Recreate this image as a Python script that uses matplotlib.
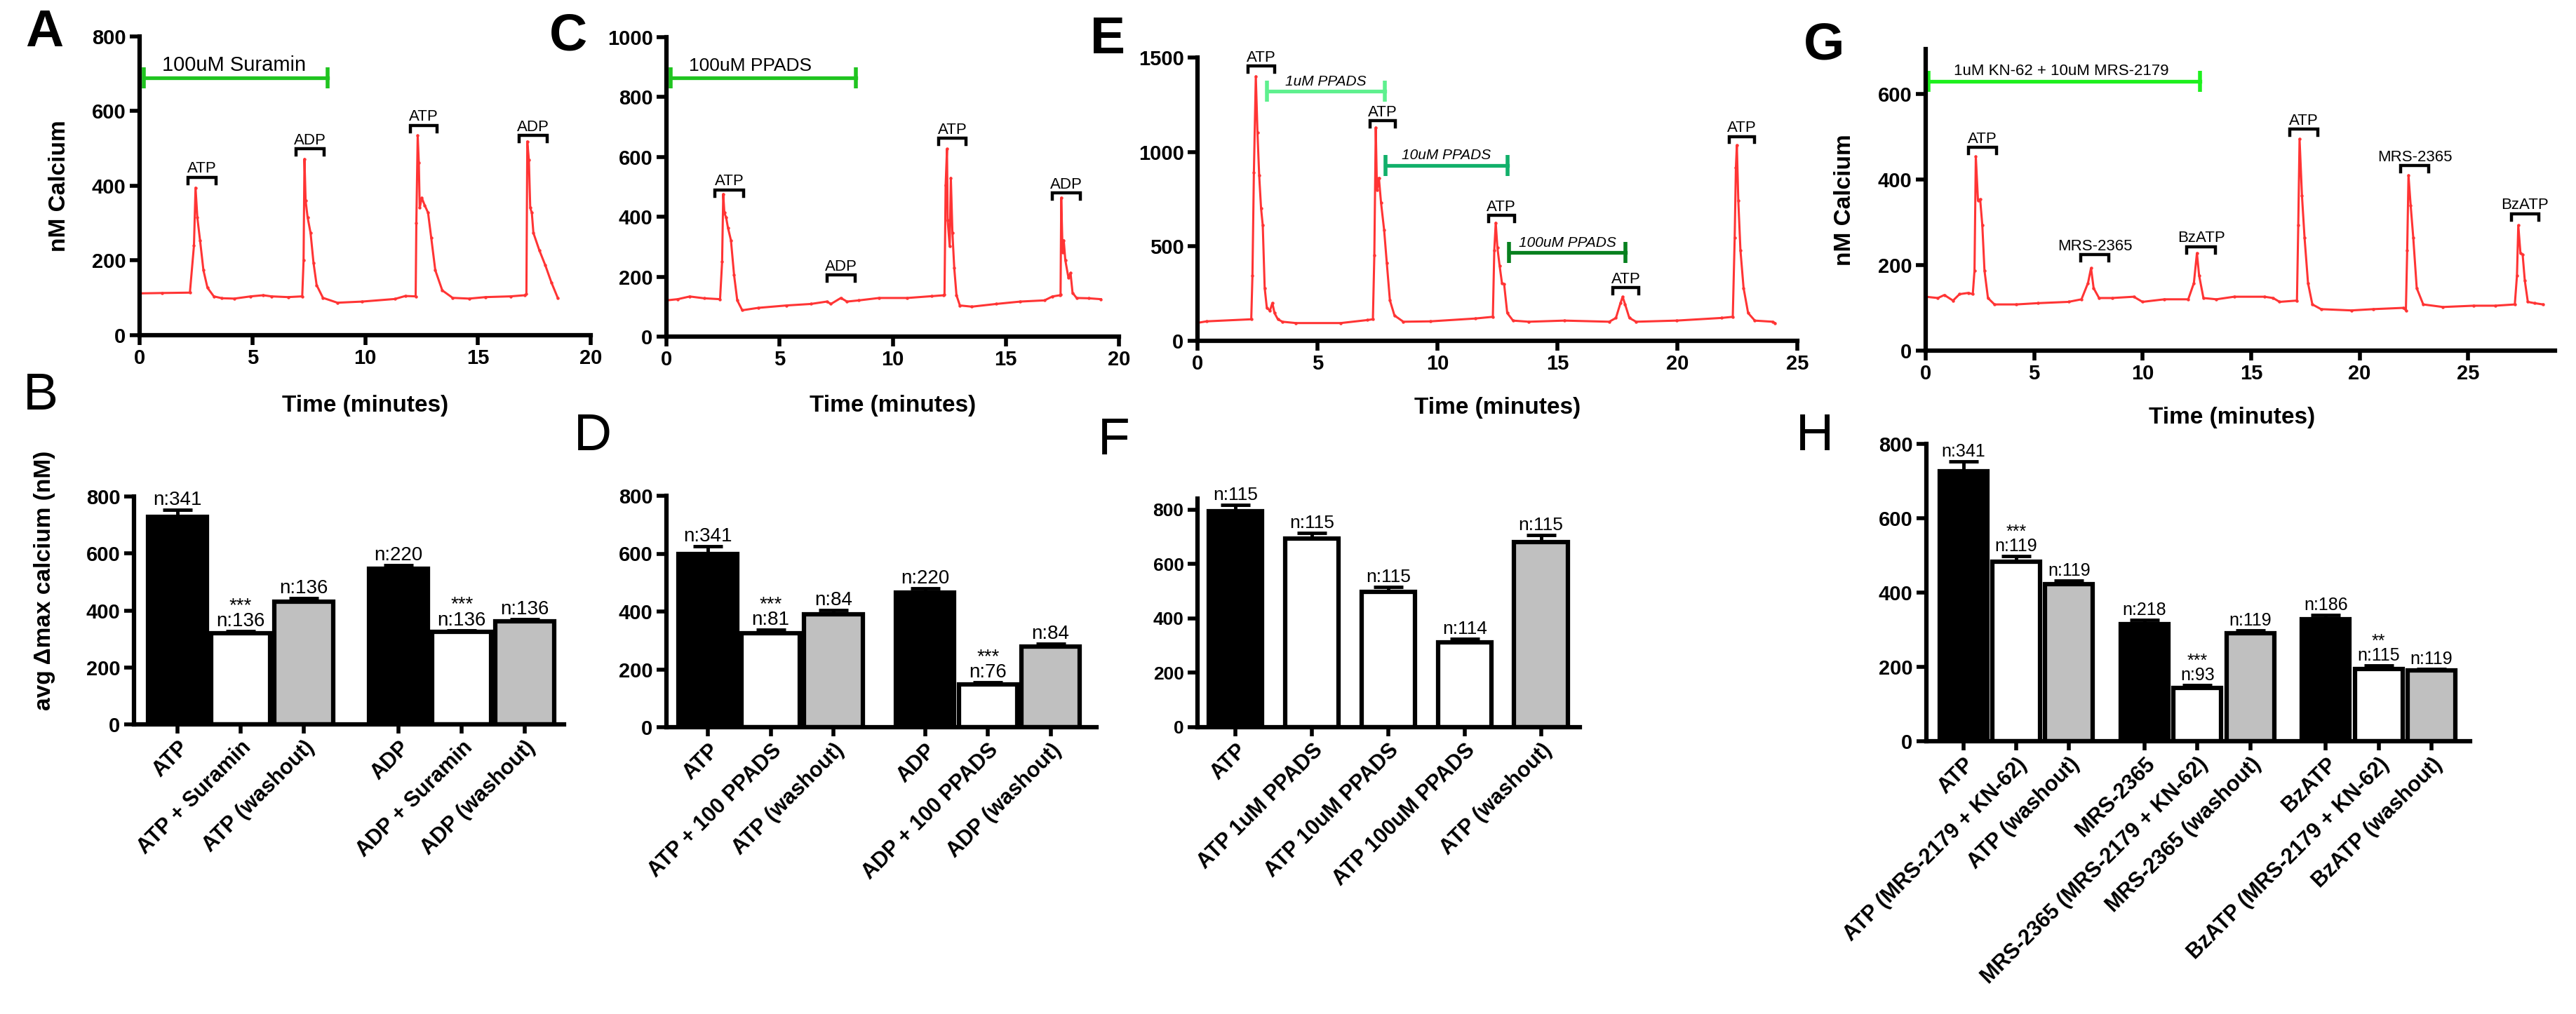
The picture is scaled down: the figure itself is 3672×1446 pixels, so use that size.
import numpy as np
import matplotlib.pyplot as plt

plt.rcParams['font.family'] = ['Liberation Sans', 'DejaVu Sans']

# ---------------- calcium traces (time in minutes, nM calcium) ----------------
a_time = [0.0, 1.0, 2.23, 2.41, 2.48, 2.56, 2.68, 2.83, 3.01, 3.29, 3.65, 4.20, 4.93, 5.48, 5.84,
          6.58, 7.21, 7.27, 7.31, 7.36, 7.45, 7.58, 7.71, 7.85, 8.13, 8.77, 9.86, 11.32, 11.78,
          12.24, 12.27, 12.33, 12.38, 12.42, 12.51, 12.64, 12.79, 12.93, 13.11, 13.42, 13.88,
          14.61, 15.34, 16.44, 17.08, 17.15, 17.19, 17.26, 17.32, 17.39, 17.46, 17.72, 17.99,
          18.26, 18.54]
a_calcium = [112, 113, 114, 240, 395, 315, 254, 174, 127, 104, 99, 98, 104, 107, 104,
             102, 104, 200, 472, 361, 315, 274, 194, 134, 100, 87, 90, 97, 105,
             104, 300, 535, 462, 341, 368, 348, 328, 261, 174, 120, 100,
             98, 102, 104, 107, 110, 519, 469, 341, 328, 274, 228, 187,
             141, 100]

c_time = [0.0, 0.50, 1.03, 1.66, 2.37, 2.46, 2.51, 2.56, 2.64, 2.72, 2.85, 2.99, 3.13, 3.35,
          4.06, 5.31, 6.38, 7.09, 7.27, 7.71, 7.98, 8.51, 9.40, 10.65, 11.72, 12.25, 12.29,
          12.34, 12.40, 12.43, 12.52, 12.57, 12.64, 12.72, 12.82, 12.97, 13.50, 14.57, 15.64,
          16.71, 17.06, 17.38, 17.42, 17.45, 17.51, 17.56, 17.63, 17.77, 17.86, 17.95, 18.13,
          18.66, 19.20]
c_calcium = [121, 125, 134, 128, 125, 250, 476, 414, 397, 363, 322, 205, 121, 88,
             96, 104, 109, 117, 109, 129, 117, 121, 129, 129, 135, 138, 140,
             505, 627, 388, 301, 530, 347, 230, 138, 104, 100, 109, 117,
             121, 134, 138, 140, 464, 280, 322, 255, 196, 213, 146, 129,
             128, 125]

e_time = [0.0, 0.37, 2.24, 2.29, 2.35, 2.43, 2.50, 2.57, 2.65, 2.72, 2.80, 2.89, 3.02, 3.12,
          3.21, 3.35, 3.54, 4.10, 5.97, 7.09, 7.31, 7.37, 7.43, 7.48, 7.56, 7.65, 7.78, 7.89,
          8.02, 8.21, 8.58, 9.70, 11.57, 12.31, 12.37, 12.43, 12.50, 12.59, 12.69, 12.78, 12.91,
          13.15, 13.81, 15.30, 17.16, 17.44, 17.63, 17.72, 17.82, 18.00, 18.28, 19.96, 21.83,
          22.31, 22.39, 22.44, 22.48, 22.54, 22.63, 22.76, 22.95, 23.23, 23.97, 24.07]
e_calcium = [95, 103, 114, 346, 890, 1400, 1102, 877, 700, 611, 280, 174, 160, 200,
             147, 114, 101, 94, 94, 110, 114, 452, 1129, 797, 863, 731, 585, 412,
             214, 134, 101, 103, 118, 127, 479, 625, 493, 399, 306, 300, 147,
             107, 101, 107, 101, 121, 200, 233, 194, 121, 101, 107, 121,
             127, 545, 916, 1036, 744, 479, 280, 147, 107, 101, 94]

g_time = [0.0, 0.56, 0.86, 1.26, 1.56, 1.97, 2.17, 2.25, 2.31, 2.41, 2.51, 2.61, 2.71, 2.87,
          3.17, 4.17, 5.18, 6.58, 7.18, 7.48, 7.62, 7.74, 7.99, 8.59, 9.59, 9.99, 11.00, 12.10,
          12.36, 12.50, 12.60, 12.80, 13.40, 14.21, 15.61, 16.01, 16.31, 17.11, 17.17, 17.23,
          17.34, 17.46, 17.62, 17.82, 18.22, 19.62, 20.63, 22.03, 22.13, 22.19, 22.25, 22.35,
          22.47, 22.63, 22.93, 23.84, 25.24, 26.24, 27.15, 27.25, 27.31, 27.41, 27.51, 27.61,
          27.75, 28.05, 28.45]
g_calcium = [126, 123, 130, 117, 132, 135, 132, 187, 454, 351, 354, 293, 187, 123,
             108, 108, 111, 114, 120, 158, 193, 146, 123, 123, 126, 114, 120, 120,
             158, 228, 176, 123, 120, 126, 126, 123, 114, 117, 293, 495,
             363, 264, 158, 108, 97, 94, 97, 100, 94, 234, 410, 340,
             264, 146, 108, 102, 105, 105, 108, 176, 293, 228, 225, 164,
             114, 111, 108]

# agonist brackets: (start, end, level, label)
a_brackets = [(2.14, 3.38, 423, 'ATP'), (6.94, 8.18, 499, 'ADP'),
              (12.0, 13.2, 562, 'ATP'), (16.84, 18.08, 535, 'ADP')]
c_brackets = [(2.15, 3.40, 490, 'ATP'), (7.09, 8.33, 205, 'ADP'),
              (12.02, 13.25, 662, 'ATP'), (17.06, 18.31, 480, 'ADP')]
e_brackets = [(2.11, 3.21, 1454, 'ATP'), (7.18, 8.25, 1164, 'ATP'), (12.13, 13.21, 664, 'ATP'),
              (17.31, 18.40, 282, 'ATP'), (22.15, 23.23, 1082, 'ATP')]
g_brackets = [(1.97, 3.27, 475, 'ATP'), (7.14, 8.45, 224, 'MRS-2365'), (12.04, 13.34, 243, 'BzATP'),
              (16.77, 18.06, 518, 'ATP'), (21.89, 23.17, 433, 'MRS-2365'),
              (26.99, 28.25, 320, 'BzATP')]

# drug application bars: (start, end, level, label)
a_drugs = [(0.18, 8.35, 689, '100uM Suramin')]
c_drugs = [(0.20, 8.37, 865, '100uM PPADS')]
e_drugs = [(2.89, 7.80, 1321, '1uM PPADS'), (7.84, 12.91, 930, '10uM PPADS'),
           (12.97, 17.85, 468, '100uM PPADS')]
g_drugs = [(0.12, 12.64, 629, '1uM KN-62 + 10uM MRS-2179')]

# ---------------- bar summaries ----------------
b_labels = ['ATP', 'ATP + Suramin', 'ATP (washout)', 'ADP', 'ADP + Suramin', 'ADP (washout)']
b_means = [728, 321, 432, 546, 324, 361]
b_sem = [25, 7, 10, 14, 7, 8]
b_n = [341, 136, 136, 220, 136, 136]
b_stars = ['', '***', '', '', '***', '']

d_labels = ['ATP', 'ATP + 100 PPADS', 'ATP (washout)', 'ADP', 'ADP + 100 PPADS', 'ADP (washout)']
d_means = [599, 324, 390, 465, 147, 279]
d_sem = [27, 13, 14, 15, 9, 9]
d_n = [341, 81, 84, 220, 76, 84]
d_stars = ['', '***', '', '', '***', '']

f_labels = ['ATP', 'ATP 1uM PPADS', 'ATP 10uM PPADS', 'ATP 100uM PPADS', 'ATP (washout)']
f_means = [793, 692, 498, 312, 680]
f_sem = [25, 21, 18, 12, 26]
f_n = [115, 115, 115, 114, 115]
f_stars = ['', '', '', '', '']

h_labels = ['ATP', 'ATP (MRS-2179 + KN-62)', 'ATP (washout)',
            'MRS-2365', 'MRS-2365 (MRS-2179 + KN-62)', 'MRS-2365 (washout)',
            'BzATP', 'BzATP (MRS-2179 + KN-62)', 'BzATP (washout)']
h_means = [727, 483, 423, 315, 143, 291, 329, 195, 190]
h_sem = [25, 16, 10, 12, 8, 8, 10, 8, 5]
h_n = [341, 119, 119, 218, 93, 119, 186, 115, 119]
h_stars = ['', '***', '', '', '***', '', '', '**', '']

W, H = 3672, 1446
fig = plt.figure(figsize=(W / 100, H / 100), dpi=100)


def px_axes(left, top, right, bottom):
    return fig.add_axes([left / W, 1 - bottom / H, (right - left) / W, (bottom - top) / H])


def style(ax, tick_size=21):
    for s in ['top', 'right']:
        ax.spines[s].set_visible(False)
    for s in ['left', 'bottom']:
        ax.spines[s].set_linewidth(4.5)
    ax.tick_params(direction='out', length=10, width=4, labelsize=tick_size, pad=4)
    for lab in ax.get_xticklabels() + ax.get_yticklabels():
        lab.set_fontweight('bold')


def trace_panel(ax, t, ca, xmax, ymax, xticks, yticks, brackets, drugs, drug_colors,
                drug_italic=False, drug_size=16, centered=False):
    ax.plot(t, ca, color='#ff3434', lw=2.2, marker='o', ms=2.2)
    ax.set_xlim(0, xmax)
    ax.set_ylim(0, ymax)
    ax.set_xticks(xticks)
    ax.set_yticks(yticks)
    h = 0.021 * ymax
    for x0, x1, y, lab in brackets:
        ax.plot([x0, x0, x1, x1], [y - h, y, y, y - h], color='black', lw=3.2,
                solid_joinstyle='miter')
        ax.annotate(lab, ((x0 + x1) / 2, y), xytext=(0, 1), textcoords='offset points',
                    ha='center', va='bottom', fontsize=16)
    for (x0, x1, y, lab), col in zip(drugs, drug_colors):
        ax.plot([x0, x1], [y, y], color=col, lw=3.8)
        ax.plot([x0, x1], [y, y], ls='none', marker='|', ms=21, mew=4, color=col)
        if centered:
            ax.annotate(lab, ((x0 + x1) / 2, y), xytext=(0, 3), textcoords='offset points',
                        ha='center', va='bottom', fontsize=drug_size,
                        style='italic' if drug_italic else 'normal')
        else:
            ax.annotate(lab, (x0 + 0.04 * xmax, y), xytext=(0, 3), textcoords='offset points',
                        ha='left', va='bottom', fontsize=drug_size)
    style(ax)
    ax.set_xlabel('Time (minutes)', fontsize=24, fontweight='bold')


def group_positions(sizes, gap):
    pos, x = [], 0.0
    for s in sizes:
        pos += [x + i for i in range(s)]
        x += s + gap
    return np.array(pos)


def bar_panel(ax, pos, means, sem, n, stars, labels, fills, xlim, ymax, width,
              n_size=20, tick_size=21, label_size=22):
    ax.bar(pos, means, width=width, color=fills, edgecolor='black', linewidth=4.5, zorder=2)
    ax.errorbar(pos, means, yerr=[np.zeros(len(sem)), sem], fmt='none', ecolor='black',
                elinewidth=3.5, capsize=15, capthick=3.5, zorder=3)
    for x, m, e, k, st in zip(pos, means, sem, n, stars):
        txt = f'{st}\nn:{k}' if st else f'n:{k}'
        ax.annotate(txt, (x, m + e), xytext=(0, 5), textcoords='offset points',
                    ha='center', va='baseline', fontsize=n_size, linespacing=0.8)
    ax.set_xlim(*xlim)
    ax.set_ylim(0, ymax)
    ax.set_yticks([0, 200, 400, 600, 800])
    ax.set_xticks(pos)
    ax.set_xticklabels(labels, rotation=45, ha='right', rotation_mode='anchor')
    style(ax, tick_size)
    ax.tick_params(axis='x', length=9, labelsize=label_size)


green = '#20c420'

axA = px_axes(199, 52, 842, 478)
trace_panel(axA, a_time, a_calcium, 20, 800, [0, 5, 10, 15, 20], [0, 200, 400, 600, 800],
            a_brackets, a_drugs, [green], drug_size=21)
axA.set_ylabel('nM Calcium', fontsize=24, fontweight='bold')
axA.yaxis.set_label_coords(-0.154, 0.5)
axA.xaxis.set_label_coords(0.5, -0.2)

axC = px_axes(950, 53, 1595, 480)
trace_panel(axC, c_time, c_calcium, 20, 1000, [0, 5, 10, 15, 20], [0, 200, 400, 600, 800, 1000],
            c_brackets, c_drugs, [green], drug_size=19)
axC.xaxis.set_label_coords(0.5, -0.194)

axE = px_axes(1707, 82, 2562, 486)
trace_panel(axE, e_time, e_calcium, 25, 1500, [0, 5, 10, 15, 20, 25], [0, 500, 1000, 1500],
            e_brackets, e_drugs, ['#5ef08e', '#12b06a', '#07801f'],
            drug_italic=True, drug_size=15, centered=True)
axE.xaxis.set_label_coords(0.5, -0.198)

axG = px_axes(2745, 70, 3642, 500)
trace_panel(axG, g_time, g_calcium, 29, 705, [0, 5, 10, 15, 20, 25], [0, 200, 400, 600],
            g_brackets, g_drugs, ['#1ef01e'], drug_size=16)
axG.set_ylabel('nM Calcium', fontsize=24, fontweight='bold')
axG.yaxis.set_label_coords(-0.111, 0.5)
axG.xaxis.set_label_coords(0.487, -0.186)

black, white, grey = 'black', 'white', '#c0c0c0'

axB = px_axes(191, 708, 804, 1033)
bar_panel(axB, group_positions([3, 3], 0.5), b_means, b_sem, b_n, b_stars, b_labels,
          [black, white, grey] * 2, (-0.69, 6.12), 800, 0.93)
axB.set_ylabel('avg \u0394max calcium (nM)', fontsize=24, fontweight='bold')
axB.yaxis.set_label_coords(-0.183, 0.63)

axD = px_axes(950, 707, 1563, 1037)
bar_panel(axD, group_positions([3, 3], 0.46), d_means, d_sem, d_n, d_stars, d_labels,
          [black, white, grey] * 2, (-0.66, 6.19), 800, 0.93)

axF = px_axes(1707, 711, 2252, 1037)
bar_panel(axF, group_positions([5], 0), f_means, f_sem, f_n, f_stars, f_labels,
          [black, white, white, white, grey], (-0.5, 4.51), 840, 0.7,
          n_size=19, tick_size=19)

axH = px_axes(2746, 633, 3521, 1057)
bar_panel(axH, group_positions([3, 3, 3], 0.43), h_means, h_sem, h_n, h_stars, h_labels,
          [black, white, grey] * 3, (-0.70, 9.59), 800, 0.9,
          n_size=18, tick_size=21)

panel_letters = [('A', 63, 47, 'bold'), ('C', 810, 52, 'bold'), ('E', 1579, 56, 'bold'),
                 ('G', 2600, 65, 'bold'), ('B', 58, 565, 'normal'), ('D', 845, 622, 'normal'),
                 ('F', 1588, 628, 'normal'), ('H', 2587, 622, 'normal')]
for letter, x, y, w in panel_letters:
    fig.text(x / W, 1 - y / H, letter, fontsize=54, fontweight=w, ha='center', va='center')

fig.savefig('out.png', dpi=100, facecolor='white')
